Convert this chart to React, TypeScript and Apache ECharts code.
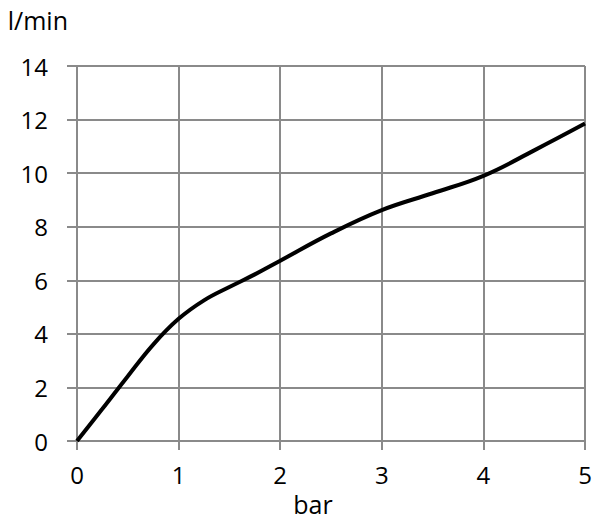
import React, { useEffect, useRef } from "react";
import * as echarts from "echarts";

const pressure = [0, 0.25, 0.5, 0.75, 1, 1.25, 1.5, 1.75, 2, 2.5, 3, 3.5, 4, 4.5, 5];
const flow = [0, 1.2, 2.42, 3.6, 4.56, 5.25, 5.75, 6.22, 6.73, 7.75, 8.62, 9.25, 9.9, 10.85, 11.85];
const xTicks = [0, 1, 2, 3, 4, 5];
const yTicks = [0, 2, 4, 6, 8, 10, 12, 14];

const FONT = "'Open Sans', 'Noto Sans', sans-serif";
const GRID = "#8a8a8a";
const TEXT = "#000000";

export default function App() {
  const ref = useRef<HTMLDivElement>(null);
  useEffect(() => {
    if (!ref.current) return;
    const chart = echarts.init(ref.current, null, { renderer: "svg" });
    chart.setOption({
      animation: false,
      backgroundColor: "#ffffff",
      grid: { left: 77, right: 15, top: 66, bottom: 75.5, containLabel: false },
      xAxis: {
        type: "value",
        min: xTicks[0],
        max: xTicks[xTicks.length - 1],
        interval: 1,
        name: "bar",
        nameLocation: "middle",
        nameGap: 50,
        nameTextStyle: { fontFamily: FONT, fontSize: 25, color: TEXT, padding: [0, 36, 0, 0] },
        axisLine: { show: true, lineStyle: { color: GRID, width: 2 } },
        axisTick: { show: true, length: 9, inside: false, lineStyle: { color: GRID, width: 2 } },
        axisLabel: { fontFamily: FONT, fontSize: 24, color: TEXT, margin: 21 },
        splitLine: { show: true, lineStyle: { color: GRID, width: 2 } },
      },
      yAxis: {
        type: "value",
        min: yTicks[0],
        max: yTicks[yTicks.length - 1],
        interval: 2,
        name: "l/min",
        nameLocation: "end",
        nameGap: 34,
        nameTextStyle: { fontFamily: FONT, fontSize: 25, color: TEXT, align: "right", padding: [0, 9, 0, 0] },
        axisLine: { show: true, lineStyle: { color: GRID, width: 2 } },
        axisTick: { show: true, length: 10, inside: false, lineStyle: { color: GRID, width: 2 } },
        axisLabel: { fontFamily: FONT, fontSize: 24, color: TEXT, margin: 29 },
        splitLine: { show: true, lineStyle: { color: GRID, width: 2 } },
      },
      series: [
        {
          type: "line",
          data: pressure.map((p, i) => [p, flow[i]]),
          smooth: 0.4,
          showSymbol: false,
          symbol: "none",
          lineStyle: { color: "#000000", width: 4 },
        },
      ],
    });
    return () => chart.dispose();
  }, []);
  return (
    <div
      ref={ref}
      style={{ position: "absolute", left: 0, top: 0, width: 600, height: 521 }}
    />
  );
}
